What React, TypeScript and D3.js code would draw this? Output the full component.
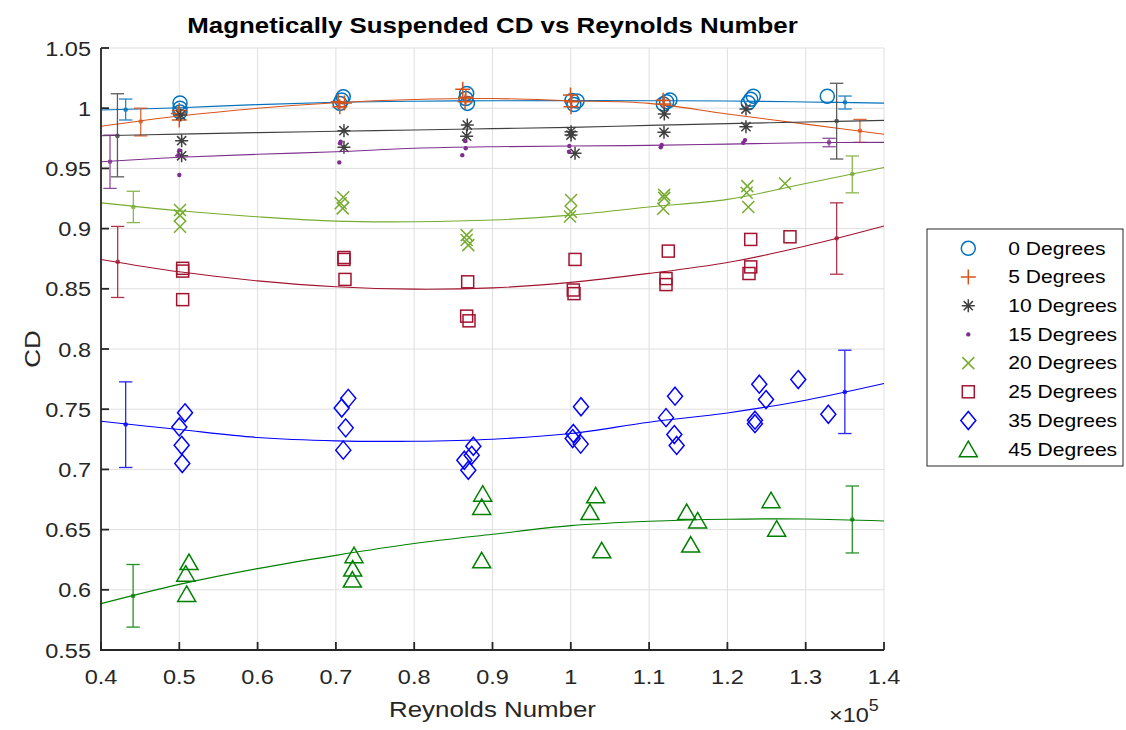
import React from "react";
import * as d3 from "d3";

// ---------- DATA ----------
const seriesNames = ["0 Degrees", "5 Degrees", "10 Degrees", "15 Degrees", "20 Degrees", "25 Degrees", "35 Degrees", "45 Degrees"];
const seriesColors = ["#0072BD", "#D95319", "#404040", "#7E2F8E", "#77AC30", "#A2142F", "#0000FF", "#008000"];
const seriesMarkers = ["circle", "plus", "asterisk", "dot", "cross", "square", "diamond", "triangle"];

const x0 = [0.5009, 0.5009, 0.5009, 0.7094, 0.7074, 0.7052, 0.867, 0.866, 0.868, 1.0015, 1.004, 1.008, 1.1266, 1.1224, 1.1181, 1.2331, 1.2298, 1.2267, 1.3276];
const y0 = [1.0043, 1.0, 0.9968, 1.0095, 1.0068, 1.004, 1.0123, 1.008, 1.004, 1.0064, 1.003, 1.006, 1.0068, 1.0054, 1.0035, 1.010, 1.0074, 1.0045, 1.010];

const x5 = [0.5, 0.4987, 0.5, 0.703, 0.705, 0.711, 0.862, 0.866, 0.865, 0.9996, 1.001, 1.0003, 1.1193, 1.118];
const y5 = [0.998, 0.9957, 0.9902, 1.0054, 1.0012, 1.0043, 1.0157, 1.009, 1.0054, 1.011, 1.0054, 1.0012, 1.0035, 1.0065];

const x10 = [0.5018, 0.503, 0.503, 0.7103, 0.7103, 0.8678, 0.867, 1.0003, 1.0003, 1.0054, 1.1194, 1.119, 1.2237, 1.2237];
const y10 = [0.9943, 0.973, 0.9605, 0.9813, 0.9675, 0.986, 0.9768, 0.9805, 0.9777, 0.9625, 0.9952, 0.98, 0.9993, 0.9846];

const x15 = [0.5, 0.4987, 0.5, 0.7061, 0.7052, 0.7043, 0.8649, 0.8658, 0.8614, 0.9981, 0.9977, 1.1161, 1.1148, 1.2225, 1.2203];
const y15 = [0.965, 0.961, 0.9445, 0.9722, 0.9708, 0.955, 0.9727, 0.9667, 0.961, 0.9686, 0.9638, 0.9694, 0.9675, 0.9735, 0.9713];

const x20 = [0.5009, 0.5009, 0.5009, 0.7094, 0.7061, 0.7087, 0.867, 0.867, 0.8691, 1.0003, 1.0, 0.999, 1.1193, 1.1193, 1.1181, 1.2254, 1.2246, 1.2267, 1.2736];
const y20 = [0.9154, 0.911, 0.9015, 0.926, 0.921, 0.9168, 0.8946, 0.8905, 0.8863, 0.9237, 0.914, 0.910, 0.928, 0.9255, 0.9165, 0.9353, 0.9298, 0.918, 0.9375];

const x25 = [0.5043, 0.5043, 0.5043, 0.7103, 0.7103, 0.7116, 0.8683, 0.867, 0.87, 1.0054, 1.0032, 1.0041, 1.1245, 1.1216, 1.1216, 1.2298, 1.2298, 1.2276, 1.2799];
const y25 = [0.867, 0.8647, 0.841, 0.876, 0.8744, 0.8578, 0.8558, 0.8273, 0.8234, 0.8744, 0.849, 0.846, 0.8813, 0.8585, 0.8535, 0.891, 0.8682, 0.8627, 0.8932];

const x35 = [0.5073, 0.5, 0.503, 0.5038, 0.7158, 0.7074, 0.7125, 0.7094, 0.8755, 0.8734, 0.864, 0.8691, 1.013, 1.0032, 1.0024, 1.0126, 1.1331, 1.1216, 1.1322, 1.1352, 1.2407, 1.2493, 1.2352, 1.2352, 1.2905, 1.3289];
const y35 = [0.747, 0.7353, 0.72, 0.7049, 0.759, 0.751, 0.7345, 0.716, 0.7192, 0.7117, 0.7076, 0.6993, 0.752, 0.7298, 0.7256, 0.721, 0.7608, 0.743, 0.7289, 0.7199, 0.7708, 0.758, 0.7409, 0.738, 0.7746, 0.7458];

const x45 = [0.5124, 0.5082, 0.5094, 0.7231, 0.7215, 0.721, 0.8875, 0.8862, 0.8862, 1.0318, 1.0245, 1.0395, 1.148, 1.162, 1.1531, 1.2557, 1.2629];
const y45 = [0.623, 0.6134, 0.5966, 0.6287, 0.6176, 0.6085, 0.6798, 0.6688, 0.6245, 0.6785, 0.6646, 0.6328, 0.6646, 0.6576, 0.6376, 0.6744, 0.6508];

const pointsX = [x0, x5, x10, x15, x20, x25, x35, x45];
const pointsY = [y0, y5, y10, y15, y20, y25, y35, y45];

// fit curves
const fitX = [0.4, 0.5, 0.6, 0.7, 0.8, 0.9, 1.0, 1.1, 1.2, 1.3, 1.4];
const fit0 = [0.9985, 1.0004, 1.003, 1.0049, 1.0058, 1.0062, 1.0063, 1.0062, 1.006, 1.0052, 1.0042];
const fit5 = [0.985, 0.9935, 0.9999, 1.0045, 1.0072, 1.0080, 1.0062, 1.004, 0.9952, 0.9868, 0.9783];
const fit10 = [0.9771, 0.9785, 0.9797, 0.9808, 0.9819, 0.983, 0.9841, 0.9857, 0.9872, 0.9885, 0.9899];
const fit15 = [0.9555, 0.9592, 0.9617, 0.9638, 0.9667, 0.968, 0.9686, 0.9691, 0.9702, 0.9713, 0.9716];
const fit20 = [0.9214, 0.9148, 0.9098, 0.9062, 0.9057, 0.9071, 0.9112, 0.918, 0.9243, 0.9375, 0.9508];
const fit25 = [0.8744, 0.8641, 0.8566, 0.8517, 0.8497, 0.8508, 0.8553, 0.8628, 0.8719, 0.8855, 0.9021];
const fit35 = [0.74, 0.7331, 0.7265, 0.7237, 0.7234, 0.7251, 0.7298, 0.7392, 0.7469, 0.7575, 0.7713];
const fit45 = [0.5885, 0.6045, 0.6176, 0.6286, 0.6384, 0.6461, 0.6533, 0.6569, 0.6586, 0.6588, 0.6572];
const fits = [fit0, fit5, fit10, fit15, fit20, fit25, fit35, fit45];

// error bars: x, mean, low, high — left and right per series
const errLeftX = [0.4315, 0.4507, 0.421, 0.4115, 0.4413, 0.4213, 0.4315, 0.441];
const errLeftY = [0.9987, 0.989, 0.977, 0.9555, 0.918, 0.8724, 0.7373, 0.5948];
const errLeftLo = [0.9902, 0.977, 0.943, 0.9334, 0.905, 0.8428, 0.7016, 0.569];
const errLeftHi = [1.0076, 1.0, 1.012, 0.9777, 0.931, 0.9018, 0.7727, 0.621];
const errRightX = [1.3502, 1.3693, 1.3395, 1.3298, 1.3595, 1.3395, 1.35, 1.3595];
const errRightY = [1.0049, 0.9813, 0.9893, 0.9716, 0.9453, 0.8919, 0.7643, 0.6583];
const errRightLo = [0.9993, 0.9716, 0.9578, 0.968, 0.9297, 0.8621, 0.7298, 0.6306];
const errRightHi = [1.0101, 0.9907, 1.0207, 0.975, 0.9603, 0.9214, 0.799, 0.6862];

const xTicks = [0.4, 0.5, 0.6, 0.7, 0.8, 0.9, 1.0, 1.1, 1.2, 1.3, 1.4];
const yTicks = [0.55, 0.6, 0.65, 0.7, 0.75, 0.8, 0.85, 0.9, 0.95, 1.0, 1.05];

const titleText = "Magnetically Suspended CD vs Reynolds Number";
const xLabelText = "Reynolds Number";
const yLabelText = "CD";

// ---------- LAYOUT ----------
const W = 1126, H = 730;
const M = { left: 101, right: 884, top: 48, bottom: 650 };
const FONT = "'Liberation Sans', Arial, Helvetica, sans-serif";
const AX = "#262626";
const SX = 1.17; // horizontal text stretch

function Marker({ type, x, y, color }: { type: string; x: number; y: number; color: string }) {
  const sw = 1.5;
  switch (type) {
    case "circle":
      return <circle cx={x} cy={y} r={7} fill="none" stroke={color} strokeWidth={sw} />;
    case "plus":
      return <path d={`M${x - 7.5},${y}H${x + 7.5}M${x},${y - 7.5}V${y + 7.5}`} stroke={color} strokeWidth={sw} fill="none" />;
    case "asterisk": {
      const r = 6.5, d = r * 0.707;
      return <path d={`M${x - r},${y}H${x + r}M${x},${y - r}V${y + r}M${x - d},${y - d}L${x + d},${y + d}M${x - d},${y + d}L${x + d},${y - d}`} stroke={color} strokeWidth={sw} fill="none" />;
    }
    case "dot":
      return <circle cx={x} cy={y} r={2.2} fill={color} stroke="none" />;
    case "cross": {
      const r = 6;
      return <path d={`M${x - r},${y - r}L${x + r},${y + r}M${x - r},${y + r}L${x + r},${y - r}`} stroke={color} strokeWidth={sw} fill="none" />;
    }
    case "square":
      return <rect x={x - 6} y={y - 6} width={12} height={12} fill="none" stroke={color} strokeWidth={sw} />;
    case "diamond":
      return <path d={`M${x},${y - 9}L${x + 7.5},${y}L${x},${y + 9}L${x - 7.5},${y}Z`} fill="none" stroke={color} strokeWidth={sw} />;
    case "triangle":
      return <path d={`M${x},${y - 8}L${x + 9},${y + 7.5}L${x - 9},${y + 7.5}Z`} fill="none" stroke={color} strokeWidth={sw} />;
  }
  return null;
}

function SText(props: any) {
  const { x, y, anchor = "middle", size, weight = "normal", children, rotate = 0, sx = SX } = props;
  return (
    <text
      transform={`translate(${x},${y}) rotate(${rotate}) scale(${sx},1)`}
      textAnchor={anchor}
      fontSize={size}
      fontWeight={weight}
      fontFamily={FONT}
      fill={props.fill || AX}
    >
      {children}
    </text>
  );
}

export default function App() {
  const xs = d3.scaleLinear().domain([0.4, 1.4]).range([M.left, M.right]);
  const ys = d3.scaleLinear().domain([0.55, 1.05]).range([M.bottom, M.top]);
  const line = d3
    .line<number>()
    .x((_, i) => xs(fitX[i]))
    .y((d) => ys(d))
    .curve(d3.curveCatmullRom);

  const errBar = (x: number, y: number, lo: number, hi: number, color: string, key: string) => {
    const px = xs(x);
    const cap = 6.7;
    return (
      <g key={key} stroke={color} strokeWidth={1.3} opacity={0.85}>
        <line x1={px} x2={px} y1={ys(lo)} y2={ys(hi)} />
        <line x1={px - cap} x2={px + cap} y1={ys(lo)} y2={ys(lo)} />
        <line x1={px - cap} x2={px + cap} y1={ys(hi)} y2={ys(hi)} />
        <circle cx={px} cy={ys(y)} r={2.3} fill={color} stroke="none" />
      </g>
    );
  };

  const legendX = 927, legendY = 229, legendW = 196, legendH = 237;
  const rowY0 = 248.3, rowStep = 28.7;

  return (
    <svg width={W} height={H} style={{ position: "absolute", left: 0, top: 0, background: "#fff" }}>
      <rect x={0} y={0} width={W} height={H} fill="#fff" />
      {/* grid */}
      <g stroke="#dfdfdf" strokeWidth={1}>
        {xTicks.map((t) => (
          <line key={"gx" + t} x1={xs(t)} x2={xs(t)} y1={M.top} y2={M.bottom} />
        ))}
        {yTicks.map((t) => (
          <line key={"gy" + t} x1={M.left} x2={M.right} y1={ys(t)} y2={ys(t)} />
        ))}
      </g>

      {/* data */}
      {seriesNames.map((name, si) => (
        <g key={name}>
          {pointsX[si].map((px, i) => (
            <Marker key={i} type={seriesMarkers[si]} x={xs(px)} y={ys(pointsY[si][i])} color={seriesColors[si]} />
          ))}
          <path d={line(fits[si]) || ""} fill="none" stroke={seriesColors[si]} strokeWidth={1.1} />
          {errBar(errLeftX[si], errLeftY[si], errLeftLo[si], errLeftHi[si], seriesColors[si], "el" + si)}
          {errBar(errRightX[si], errRightY[si], errRightLo[si], errRightHi[si], seriesColors[si], "er" + si)}
        </g>
      ))}

      {/* axes */}
      <g stroke={AX} strokeWidth={1.8} fill="none">
        <line x1={M.left} x2={M.left} y1={M.top} y2={M.bottom + 0.9} />
        <line x1={M.left - 0.9} x2={M.right} y1={M.bottom} y2={M.bottom} />
        {xTicks.map((t) => (
          <line key={"tx" + t} x1={xs(t)} x2={xs(t)} y1={M.bottom} y2={M.bottom - 8} />
        ))}
        {yTicks.map((t) => (
          <line key={"ty" + t} x1={M.left} x2={M.left + 8} y1={ys(t)} y2={ys(t)} />
        ))}
      </g>
      {xTicks.map((t) => (
        <SText key={"lx" + t} x={xs(t)} y={684} size={21} sx={1.12}>
          {d3.format("~g")(t)}
        </SText>
      ))}
      {yTicks.map((t) => (
        <SText key={"ly" + t} x={91} y={ys(t) + 7.6} size={21} anchor="end" sx={1.12}>
          {d3.format("~g")(t)}
        </SText>
      ))}

      <SText x={492.5} y={717} size={22} sx={1.175}>{xLabelText}</SText>
      <SText x={39.5} y={349} size={22} rotate={-90} sx={1.175}>{yLabelText}</SText>
      <SText x={492.5} y={33} size={22} weight="bold" fill="#000" sx={1.175}>{titleText}</SText>

      {/* exponent */}
      <text transform={`translate(829,722) scale(1.12,1)`} fontSize={21} fontFamily={FONT} fill={AX}>
        ×10
        <tspan fontSize={16} dy={-11}>5</tspan>
      </text>

      {/* legend */}
      <rect x={legendX} y={legendY} width={legendW} height={legendH} fill="#fff" stroke={AX} strokeWidth={1} />
      {seriesNames.map((name, si) => {
        const cy = rowY0 + si * rowStep;
        return (
          <g key={"lg" + si}>
            <Marker type={seriesMarkers[si]} x={968.3} y={cy} color={seriesColors[si]} />
            <SText x={1008.3} y={cy + 6.3} size={18} anchor="start" fill="#000" sx={1.17}>
              {name}
            </SText>
          </g>
        );
      })}
    </svg>
  );
}
